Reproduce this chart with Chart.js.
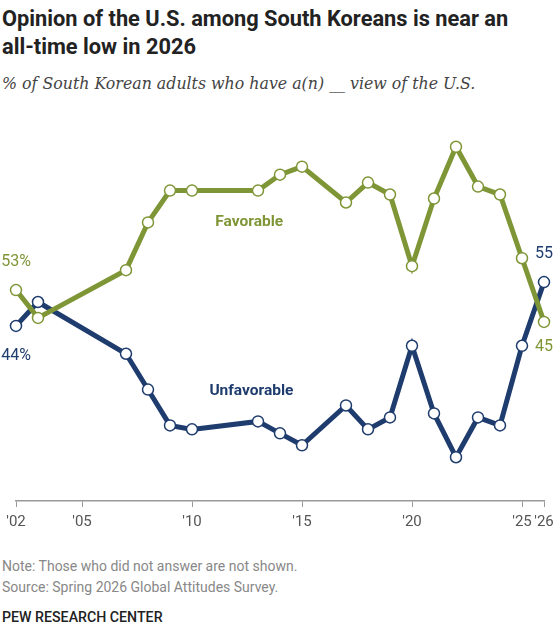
<!DOCTYPE html>
<html>
<head>
<meta charset="utf-8">
<script src="https://cdn.jsdelivr.net/npm/chart.js@4"></script>
<style>
  body { margin: 0; background: #fff; width: 560px; height: 634px; position: relative; overflow: hidden; }
  .t { position: absolute; left: 2px; font-family: Roboto, "Liberation Sans", sans-serif; white-space: nowrap; }
  #title { top: 5px; font-size: 21.8px; font-weight: 700; line-height: 28px; color: #222; }
  #sub { top: 74px; font-family: "DejaVu Serif", "Liberation Serif", serif; font-style: italic; font-size: 15.8px; color: #444; }
  #note { top: 556px; font-size: 14px; line-height: 21px; color: #888; }
  #pew { top: 609px; font-size: 14.2px; font-weight: 500; color: #222; }
  #wrap { position: absolute; left: 0; top: 0; width: 560px; height: 540px; }
</style>
</head>
<body>
<div class="t" id="title">Opinion of the U.S. among South Koreans is near an<br>all-time low in 2026</div>
<div class="t" id="sub">% of South Korean adults who have a(n) __ view of the U.S.</div>
<div class="t" id="note">Note: Those who did not answer are not shown.<br>Source: Spring 2026 Global Attitudes Survey.</div>
<div class="t" id="pew">PEW RESEARCH CENTER</div>
<div id="wrap"><canvas id="lineChart"></canvas></div>
<script>
const years = [2002, 2003, 2007, 2008, 2009, 2010, 2013, 2014, 2015, 2017, 2018, 2019, 2020, 2021, 2022, 2023, 2024, 2025, 2026]
const favorable = [53, 46, 58, 70, 78, 78, 78, 82, 84, 75, 80, 77, 59, 76, 89, 79, 77, 61, 45]
const unfavorable = [44, 50, 37, 28, 19, 18, 20, 17, 14, 24, 18, 21, 39, 22, 11, 21, 19, 39, 55]
const tickYears = [2002, 2005, 2010, 2015, 2020, 2025, 2026]

const green = '#7f9637'
const navy = '#1f3c6e'

const ctx = document.getElementById('lineChart').getContext('2d')

const toPoints = (vals) => years.map((y, i) => ({ x: y, y: vals[i] }))

// end labels and series names, placed through the scales
const labelPlugin = {
    id: 'labels',
    afterDatasetsDraw(chart) {
        const c = chart.ctx
        const xs = chart.scales.x
        const ys = chart.scales.y
        const last = years.length - 1
        c.save()
        c.textAlign = 'center'
        c.textBaseline = 'middle'
        c.font = '16px Roboto, "Liberation Sans", sans-serif'
        c.fillStyle = green
        c.fillText(favorable[0] + '%', xs.getPixelForValue(years[0]), ys.getPixelForValue(favorable[0]) - 28)
        c.fillText(String(favorable[last]), xs.getPixelForValue(years[last]), ys.getPixelForValue(favorable[last]) + 25)
        c.fillStyle = navy
        c.fillText(unfavorable[0] + '%', xs.getPixelForValue(years[0]), ys.getPixelForValue(unfavorable[0]) + 30)
        c.fillText(String(unfavorable[last]), xs.getPixelForValue(years[last]), ys.getPixelForValue(unfavorable[last]) - 28)
        c.font = 'bold 15.5px Roboto, "Liberation Sans", sans-serif'
        c.fillStyle = green
        c.fillText('Favorable', xs.getPixelForValue(2012.6), ys.getPixelForValue(70))
        c.fillStyle = navy
        c.fillText('Unfavorable', xs.getPixelForValue(2012.7), ys.getPixelForValue(27.5))
        c.restore()
    }
}

const data = {
    datasets: [{
        label: 'Favorable',
        data: toPoints(favorable),
        borderColor: green,
        borderWidth: 5,
        pointBackgroundColor: '#fff',
        pointBorderColor: green,
        pointBorderWidth: 1.5,
        pointRadius: 5.5,
        tension: 0,
        clip: false,
    }, {
        label: 'Unfavorable',
        data: toPoints(unfavorable),
        borderColor: navy,
        borderWidth: 5,
        pointBackgroundColor: '#fff',
        pointBorderColor: navy,
        pointBorderWidth: 1.5,
        pointRadius: 5.5,
        tension: 0,
        clip: false,
    }],
}

const config = {
    type: 'line',
    data: data,
    options: {
        responsive: true,
        maintainAspectRatio: false,
        animation: false,
        layout: { padding: { top: 103, left: 16, right: 16, bottom: 3 } },
        plugins: { legend: { display: false }, tooltip: { enabled: false } },
        scales: {
            x: {
                type: 'linear',
                min: 2002,
                max: 2026,
                afterBuildTicks: (axis) => { axis.ticks = tickYears.map(v => ({ value: v })) },
                grid: { drawOnChartArea: false, drawTicks: true, tickLength: 6, color: '#999' },
                border: { color: '#999', width: 1.5 },
                ticks: {
                    autoSkip: false,
                    maxRotation: 0,
                    padding: 6,
                    color: '#555',
                    font: { family: 'Roboto, "Liberation Sans", sans-serif', size: 15 },
                    callback: (v) => "'" + String(v).slice(2),
                },
            },
            y: { display: false, min: 0, max: 100 },
        },
    },
    plugins: [labelPlugin],
}

const myChart = new Chart(ctx, config)
</script>
</body>
</html>
